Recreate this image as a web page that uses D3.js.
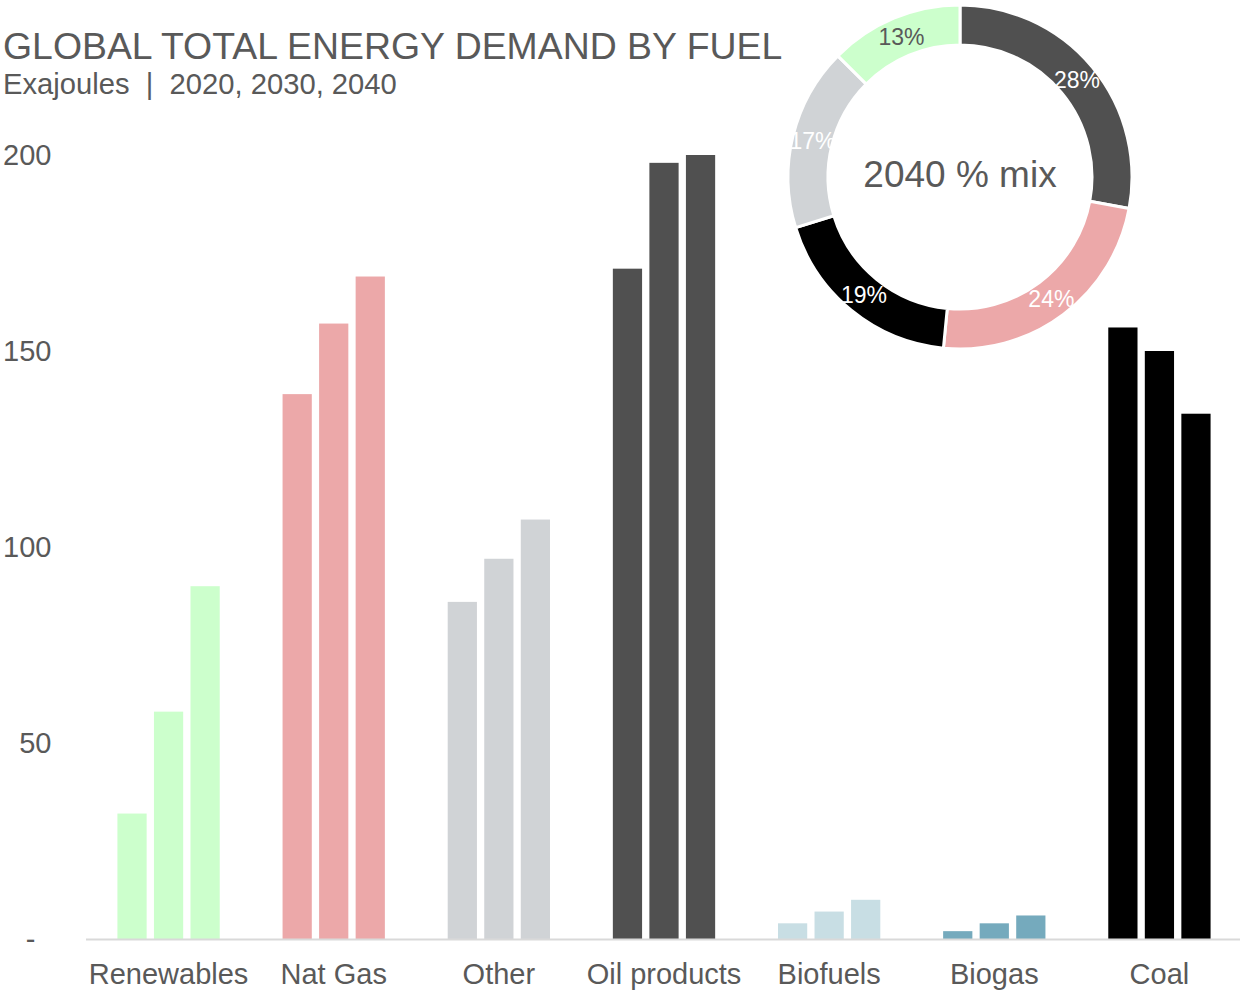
<!DOCTYPE html>
<html>
<head>
<meta charset="utf-8">
<script src="https://cdn.jsdelivr.net/npm/d3@7/dist/d3.min.js"></script>
<style>
  html, body { margin: 0; padding: 0; background: #ffffff; }
  svg { display: block; font-family: "Liberation Sans", Arial, sans-serif; }
</style>
</head>
<body>
<svg id="chart" width="1240" height="991"></svg>
<script>
// Fuel categories and demand (EJ) for each year
const categories = ["Renewables", "Nat Gas", "Other", "Oil products", "Biofuels", "Biogas", "Coal"];
const years = ["2020", "2030", "2040"];
const demand2020 = [32, 139, 86, 171, 4, 2, 156];
const demand2030 = [58, 157, 97, 198, 7, 4, 150];
const demand2040 = [90, 169, 107, 200, 10, 6, 134];
const barColors = ["#ccffcc", "#eca8a9", "#d0d3d6", "#505050", "#c8dee4", "#75aabd", "#000000"];
const yTicks = [0, 50, 100, 150, 200];

// 2040 mix: Other groups with biofuels and biogas
const mixNames = ["Oil products", "Nat Gas", "Coal", "Other", "Renewables"];
const mixColors = ["#505050", "#eca8a9", "#000000", "#d0d3d6", "#ccffcc"];
const mixLabelColors = ["#ffffff", "#ffffff", "#ffffff", "#ffffff", "#595959"];

const textColor = "#595959";
const svg = d3.select("#chart");

const rows = categories.map((c, i) => ({
  category: c,
  color: barColors[i],
  values: [demand2020[i], demand2030[i], demand2040[i]]
}));

const x = d3.scaleBand().domain(categories).range([86, 1242]).padding(0);
const xYear = d3.scaleBand().domain(years).range([0, x.bandwidth()])
  .paddingInner(0.2).paddingOuter(0.86);
const y = d3.scaleLinear().domain([0, 200]).range([939, 155]);

// Title block
svg.append("text").attr("x", 3).attr("y", 58.5)
  .attr("font-size", 37.4).attr("fill", textColor)
  .text("GLOBAL TOTAL ENERGY DEMAND BY FUEL");
svg.append("text").attr("x", 3).attr("y", 94)
  .attr("font-size", 29.2).attr("fill", textColor)
  .style("white-space", "pre")
  .text("Exajoules  |  2020, 2030, 2040");

// Y axis labels
const yAxis = d3.axisLeft(y).tickValues(yTicks).tickSize(0)
  .tickFormat(d => d === 0 ? "-" : d3.format("d")(d));
const yG = svg.append("g").attr("transform", "translate(51.5,0)").call(yAxis);
yG.select(".domain").remove();
yG.selectAll("text")
  .attr("x", 0).attr("dy", "0.34em")
  .attr("font-size", 29).attr("fill", textColor)
  .attr("font-family", "'Liberation Sans', Arial, sans-serif")
  .attr("dx", d => d === 0 ? -16 : 0);

// Bars
const groups = svg.append("g").selectAll("g").data(rows).join("g")
  .attr("transform", d => `translate(${x(d.category)},0)`);
groups.selectAll("rect")
  .data(d => d.values.map((v, j) => ({ year: years[j], value: v, color: d.color })))
  .join("rect")
  .attr("x", d => xYear(d.year))
  .attr("width", xYear.bandwidth())
  .attr("y", d => y(d.value))
  .attr("height", d => y(0) - y(d.value))
  .attr("fill", d => d.color);

// X axis baseline and category labels
const xAxis = d3.axisBottom(x).tickSize(0).tickPadding(0);
const xG = svg.append("g").attr("transform", `translate(0,${y(0)})`).call(xAxis);
xG.select(".domain").attr("stroke", "#d9d9d9").attr("stroke-width", 2)
  .attr("d", `M86,0.5H1240`);
xG.selectAll("text")
  .attr("y", 44.5).attr("dy", 0)
  .attr("font-size", 29).attr("fill", textColor)
  .attr("font-family", "'Liberation Sans', Arial, sans-serif");

// Donut of the 2040 mix
const idx = n => categories.indexOf(n);
const mixValues = [
  demand2040[idx("Oil products")],
  demand2040[idx("Nat Gas")],
  demand2040[idx("Coal")],
  demand2040[idx("Other")] + demand2040[idx("Biofuels")] + demand2040[idx("Biogas")],
  demand2040[idx("Renewables")]
];
const total = d3.sum(mixValues);
const mix = mixNames.map((n, i) => ({ name: n, value: mixValues[i], color: mixColors[i], label: mixLabelColors[i] }));

const pie = d3.pie().value(d => d.value).sort(null);
const arc = d3.arc().innerRadius(132).outerRadius(172);
const donut = svg.append("g").attr("transform", "translate(960,177)");
const slices = pie(mix);
donut.selectAll("path").data(slices).join("path")
  .attr("d", arc)
  .attr("fill", d => d.data.color)
  .attr("stroke", "#ffffff").attr("stroke-width", 3);
donut.selectAll("text.pct").data(slices).join("text")
  .attr("class", "pct")
  .attr("transform", d => `translate(${arc.centroid(d)})`)
  .attr("text-anchor", "middle").attr("dy", "0.36em")
  .attr("font-size", 23).attr("fill", d => d.data.label)
  .text(d => Math.round(d.data.value / total * 100) + "%");
donut.append("text")
  .attr("text-anchor", "middle").attr("y", 10).attr("dy", 0)
  .attr("font-size", 37).attr("fill", textColor)
  .text("2040 % mix");
</script>
</body>
</html>
